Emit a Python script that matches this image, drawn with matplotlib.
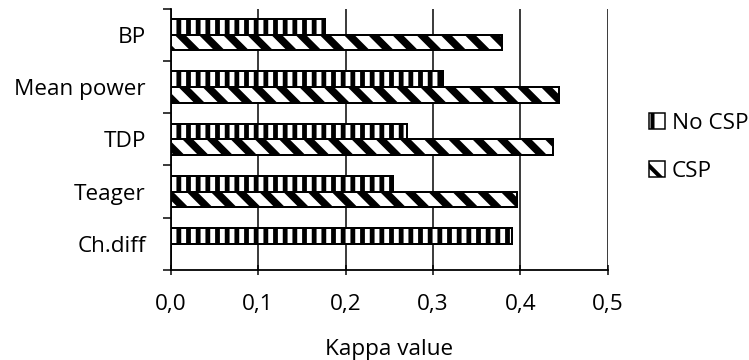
import matplotlib
matplotlib.use("Agg")
import matplotlib.pyplot as plt
from matplotlib.patches import Patch
import numpy as np

# Feature extraction methods and their kappa values
methods = ["BP", "Mean power", "TDP", "Teager", "Ch.diff"]
kappa_no_csp = [0.177, 0.311, 0.270, 0.254, 0.390]
kappa_csp = [0.379, 0.444, 0.437, 0.396, 0.0]
series_labels = ["No CSP", "CSP"]
x_ticks = [0.0, 0.1, 0.2, 0.3, 0.4, 0.5]
x_tick_labels = ["0,0", "0,1", "0,2", "0,3", "0,4", "0,5"]

W, H = 749, 360
DPI = 290


def pt(px):
    """Convert pixels to points at the figure resolution."""
    return px * 72.0 / DPI


plt.rcParams["font.family"] = ["Open Sans", "DejaVu Sans"]
FS = pt(22.5)

HATCH_NO = "|||||"          # dense vertical stripes
HATCH_CSP = "\\" * 4        # diagonal stripes, top-left to bottom-right

fig = plt.figure(figsize=(W / DPI, H / DPI), dpi=DPI)
ax = fig.add_axes([170.7 / W, 1 - 270 / H, (607.7 - 170.7) / W, (270 - 8.5) / H])

n = len(methods)
centers = np.arange(n) + 0.5
bar_h = 0.30

bars_no = ax.barh(centers - bar_h / 2, kappa_no_csp, height=bar_h,
                  color="white", edgecolor="black", linewidth=pt(2.0),
                  hatch=HATCH_NO, zorder=3)
bars_csp = ax.barh(centers + bar_h / 2, kappa_csp, height=bar_h,
                   color="white", edgecolor="black", linewidth=pt(2.0),
                   hatch=HATCH_CSP, zorder=3)

for b in bars_no:
    if hasattr(b, "set_hatch_linewidth"):
        b.set_hatch_linewidth(pt(4.8))
for b in bars_csp:
    if hasattr(b, "set_hatch_linewidth"):
        b.set_hatch_linewidth(pt(7.5))

ax.set_xlim(0, 0.5)
ax.set_ylim(n, 0)

# x axis: comma decimal labels, ticks crossing the axis line
ax.set_xticks(x_ticks)
ax.set_xticklabels(x_tick_labels, fontsize=FS)
ax.tick_params(axis="x", direction="inout", length=pt(10), width=pt(1.5),
               pad=pt(19), colors="black")

# y axis: tick marks at category boundaries, labels at band centres
ax.set_yticks(np.arange(n + 1), minor=True)
ax.set_yticks(centers)
ax.set_yticklabels(methods, fontsize=FS)
ax.tick_params(axis="y", which="major", length=0, pad=pt(25))
ax.tick_params(axis="y", which="minor", direction="out", length=pt(8),
               width=pt(1.5))

ax.grid(axis="x", color="black", linewidth=pt(1.5), zorder=0)
ax.set_axisbelow(True)
for side in ("top", "right"):
    ax.spines[side].set_visible(False)
for side in ("left", "bottom"):
    ax.spines[side].set_linewidth(pt(1.8))
    ax.spines[side].set_zorder(4)

ax.set_xlabel("Kappa value", fontsize=FS, labelpad=pt(24))

h_no = Patch(facecolor="white", edgecolor="black", hatch="|||",
             linewidth=pt(1.5))
h_csp = Patch(facecolor="white", edgecolor="black", hatch="\\\\",
              linewidth=pt(1.5))
fig.legend([h_no, h_csp], series_labels, loc="upper left",
           bbox_to_anchor=(640 / W, 1 - 104 / H), frameon=False,
           fontsize=FS, handlelength=0.7, handleheight=0.7,
           handletextpad=0.3, labelspacing=1.2, borderaxespad=0)

fig.savefig("out.png", dpi=DPI)
